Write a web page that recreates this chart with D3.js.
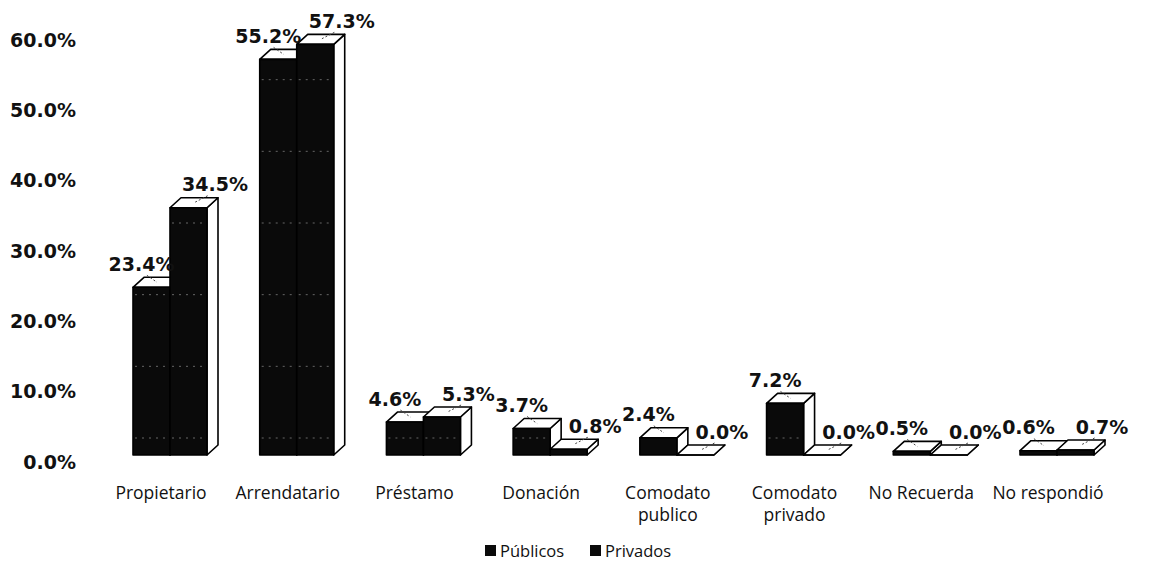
<!DOCTYPE html>
<html>
    <head>
        <meta charset="utf-8">
        <title>Tenencia del local</title>
        <style>
body {
    margin: 0;
    background-color: white;
}

svg {
    display: block;
    background-color: white;
}

.val {
    font-family: "DejaVu Sans", sans-serif;
    font-weight: bold;
    font-size: 19px;
    fill: #111;
}

.axis text {
    font-family: "DejaVu Sans", sans-serif;
    font-weight: bold;
    font-size: 19px;
    fill: #111;
}

.cat, .legend text {
    font-family: "Open Sans", sans-serif;
    font-size: 17.5px;
    fill: #111;
}

.legend text {
    font-size: 16.5px;
}

.face {
    stroke: #000;
    stroke-width: 1.6;
    stroke-linejoin: round;
}

</style>
        <script src="https://cdn.jsdelivr.net/npm/d3@7"></script>
    </head>
    <body>
        <script>
var width = 1161,
    height = 563;

// data
var categories = ["Propietario", "Arrendatario", "Préstamo", "Donación",
    "Comodato\npublico", "Comodato\nprivado", "No Recuerda", "No respondió"];
var series = ["Públicos", "Privados"];
var publicos = [0.234, 0.552, 0.046, 0.037, 0.024, 0.072, 0.005, 0.006];
var privados = [0.345, 0.573, 0.053, 0.008, 0.000, 0.000, 0.000, 0.007];
var tickValues = [0, 0.1, 0.2, 0.3, 0.4, 0.5, 0.6];

var values = [publicos, privados];

var svg = d3.select('body')
    .append('svg')
    .attr('width', width)
    .attr('height', height);

// 3d depth offset
var dx = 11, dy = 10;

var x = d3.scaleBand()
    .domain(categories)
    .range([133, 1094])
    .paddingInner(0.416)
    .paddingOuter(0);

var x1 = d3.scaleBand()
    .domain(series)
    .range([0, x.bandwidth()]);

// front face scale
var y = d3.scaleLinear()
    .domain([0, 0.6])
    .range([455, 25]);

// axis labels sit on the back wall
var yWall = d3.scaleLinear()
    .domain([0, 0.6])
    .range([462, 40]);

var yAxis = d3.axisLeft(yWall)
    .tickValues(tickValues)
    .tickFormat(d3.format(".1%"))
    .tickSize(0)
    .tickPadding(0);

svg.append("g")
    .attr("class", "axis")
    .attr("transform", "translate(76,0)")
    .call(yAxis)
    .call(function (g) { g.select(".domain").remove(); });

// build bar records
var bars = [];
series.forEach(function (s, si) {
    categories.forEach(function (c, ci) {
        bars.push({ cat: c, series: s, si: si, value: values[si][ci] });
    });
});

var w = x1.bandwidth();

function pts(arr) {
    return arr.map(function (p) { return p.join(","); }).join(" ");
}

var barG = svg.append("g");

// draw public bars first, then private ones
bars.forEach(function (d) {
    var bx = x(d.cat) + x1(d.series),
        top = y(d.value),
        base = y(0);
    var g = barG.append("g");

    g.append("polygon")
        .attr("class", "face")
        .attr("fill", "white")
        .attr("points", pts([[bx + w, top], [bx + w + dx, top - dy],
            [bx + w + dx, base - dy], [bx + w, base]]));

    g.append("polygon")
        .attr("class", "face")
        .attr("fill", "white")
        .attr("points", pts([[bx, top], [bx + dx, top - dy],
            [bx + w + dx, top - dy], [bx + w, top]]));

    if (base - top > 0.5) {
        g.append("rect")
            .attr("class", "face")
            .attr("x", bx)
            .attr("y", top)
            .attr("width", w)
            .attr("height", base - top)
            .attr("fill", "#0a0a0a");
    } else {
        g.append("line")
            .attr("class", "face")
            .attr("x1", bx).attr("x2", bx + w)
            .attr("y1", base).attr("y2", base);
    }

    // faint gridlines showing through the dark faces
    tickValues.forEach(function (t) {
        var gy = y(t) - 17;
        if (gy > top + 3 && gy < base) {
            g.append("line")
                .attr("x1", bx + 2).attr("x2", bx + w - 2)
                .attr("y1", gy).attr("y2", gy)
                .attr("stroke", "#666")
                .attr("stroke-width", 1)
                .attr("stroke-dasharray", "2,5");
        }
    });
});

// value labels with short leader lines
bars.forEach(function (d) {
    var bx = x(d.cat) + x1(d.series),
        top = y(d.value);
    var lx = d.si === 0 ? bx + w / 2 - 10 : bx + w + dx - 3;
    var ly = top - 23;
    var tx = bx + w / 2 + dx / 2;

    svg.append("line")
        .attr("x1", lx + (tx - lx) * 0.35).attr("y1", ly + 11)
        .attr("x2", tx).attr("y2", top - dy / 2)
        .attr("stroke", "#444")
        .attr("stroke-width", 1)
        .attr("stroke-dasharray", "2,2");

    svg.append("text")
        .attr("class", "val")
        .attr("x", lx)
        .attr("y", ly)
        .attr("dy", "0.35em")
        .attr("text-anchor", "middle")
        .text(d3.format(".1%")(d.value));
});

// category labels
svg.append("g")
    .selectAll("text")
    .data(categories)
    .enter()
    .append("text")
    .attr("class", "cat")
    .attr("text-anchor", "middle")
    .attr("x", function (d) { return x(d) + x.bandwidth() / 2 - 9; })
    .attr("y", 499)
    .each(function (d) {
        var lines = d.split("\n");
        var t = d3.select(this);
        lines.forEach(function (l, i) {
            t.append("tspan")
                .attr("x", t.attr("x"))
                .attr("dy", i === 0 ? 0 : 22)
                .text(l);
        });
    });

// legend
var legend = svg.append("g")
    .attr("class", "legend")
    .attr("transform", "translate(485,545)");

var legX = [0, 105];

series.forEach(function (s, i) {
    legend.append("rect")
        .attr("x", legX[i])
        .attr("y", 0)
        .attr("width", 11)
        .attr("height", 11)
        .attr("fill", "#0a0a0a");
    legend.append("text")
        .attr("x", legX[i] + 15)
        .attr("y", 6)
        .attr("dy", "0.35em")
        .text(s);
});

        </script>
    </body>
</html>
